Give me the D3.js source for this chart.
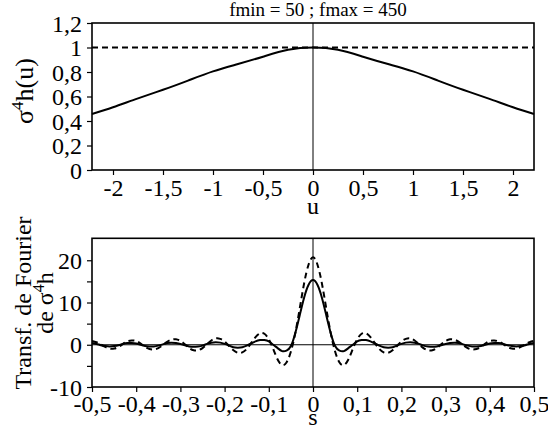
<!DOCTYPE html>
<html><head><meta charset="utf-8">
<script src="https://cdn.jsdelivr.net/npm/d3@7"></script>
<style>body{margin:0;background:#fff}svg{display:block}text{font-family:"Liberation Serif","Times New Roman",serif;fill:#000}</style>
</head><body>
<svg id="c" width="548" height="429"></svg>
<script>
// ---- data ----
const title = "fmin = 50 ; fmax = 450";
const uVals = [-2.21,-2,-1.75,-1.5,-1.25,-1,-0.75,-0.5,-0.25,0,0.25,0.5,0.75,1,1.25,1.5,1.75,2,2.21];
const hVals = [0.457,0.512,0.585,0.655,0.73,0.805,0.865,0.925,0.981,1,0.981,0.925,0.865,0.805,0.73,0.655,0.585,0.512,0.457];
const refLevel = 1;
const topXTicks = [-2,-1.5,-1,-0.5,0,0.5,1,1.5,2];
const topYTicks = [0,0.2,0.4,0.6,0.8,1,1.2];
const sVals = [-0.5,-0.49,-0.48,-0.47,-0.46,-0.45,-0.44,-0.43,-0.42,-0.41,-0.4,-0.39,-0.38,-0.37,-0.36,-0.35,-0.34,-0.33,-0.32,-0.31,-0.3,-0.29,-0.28,-0.27,-0.26,-0.25,-0.24,-0.23,-0.22,-0.21,-0.2,-0.19,-0.18,-0.17,-0.16,-0.15,-0.14,-0.13,-0.12,-0.11,-0.1,-0.09,-0.08,-0.07,-0.06,-0.05,-0.04,-0.03,-0.02,-0.01,0,0.01,0.02,0.03,0.04,0.05,0.06,0.07,0.08,0.09,0.1,0.11,0.12,0.13,0.14,0.15,0.16,0.17,0.18,0.19,0.2,0.21,0.22,0.23,0.24,0.25,0.26,0.27,0.28,0.29,0.3,0.31,0.32,0.33,0.34,0.35,0.36,0.37,0.38,0.39,0.4,0.41,0.42,0.43,0.44,0.45,0.46,0.47,0.48,0.49,0.5];
const ftSolid = [0.4,0.2,-0.1,-0.3,-0.4,-0.3,-0.1,0.2,0.4,0.4,0.3,0.0,-0.3,-0.4,-0.4,-0.2,0.1,0.4,0.5,0.4,0.2,-0.1,-0.4,-0.5,-0.4,-0.2,0.2,0.5,0.6,0.5,0.2,-0.2,-0.6,-0.7,-0.6,-0.2,0.3,0.8,1.1,1.1,0.8,0.0,-0.8,-1.5,-1.4,-0.3,2.8,7.0,11.2,14.2,15.3,14.2,11.2,7.0,2.8,-0.3,-1.4,-1.5,-0.8,0.0,0.8,1.1,1.1,0.8,0.3,-0.2,-0.6,-0.7,-0.6,-0.2,0.2,0.5,0.6,0.5,0.2,-0.2,-0.4,-0.5,-0.4,-0.1,0.2,0.4,0.5,0.4,0.1,-0.2,-0.4,-0.4,-0.3,0.0,0.3,0.4,0.4,0.2,-0.1,-0.3,-0.4,-0.3,-0.1,0.2,0.4];
const ftDashed = [0.9,0.6,0.1,-0.5,-0.9,-0.9,-0.5,0.2,0.8,1.0,0.9,0.3,-0.5,-1.0,-1.1,-0.8,-0.1,0.7,1.2,1.3,0.9,0.1,-0.8,-1.3,-1.3,-0.8,0.1,1.0,1.5,1.4,0.8,-0.3,-1.3,-1.9,-1.8,-1.0,0.4,1.8,2.7,2.6,1.3,-1.0,-3.5,-4.8,-4.2,-1.6,2.8,8.6,14.6,19.0,20.7,19.0,14.6,8.6,2.8,-1.6,-4.2,-4.8,-3.5,-1.0,1.3,2.6,2.7,1.8,0.4,-1.0,-1.8,-1.9,-1.3,-0.3,0.8,1.4,1.5,1.0,0.1,-0.8,-1.3,-1.3,-0.8,0.1,0.9,1.3,1.2,0.7,-0.1,-0.8,-1.1,-1.0,-0.5,0.3,0.9,1.0,0.8,0.2,-0.5,-0.9,-0.9,-0.5,0.1,0.6,0.9];
const botXTicks = [-0.5,-0.4,-0.3,-0.2,-0.1,0,0.1,0.2,0.3,0.4,0.5];
const botYTicks = [-10,-5,0,5,10,15,20];
const botYLabels = [-10,0,10,20];

const fmt = d => String(d).replace(".", ",");
const svg = d3.select("#c");

// ---- scales ----
const L = 92, R = 534;
const xT = d3.scaleLinear().domain([-2.21, 2.21]).range([L, R]);
const yT = d3.scaleLinear().domain([0, 1.2]).range([170, 23]);
const xB = d3.scaleLinear().domain([-0.5, 0.5]).range([L, R]);
const yB = d3.scaleLinear().domain([-10, 25.2]).range([387, 238.3]);

const FS = 24;
function styleAxis(g){
  g.attr("font-family", null).attr("font-size", null);
  g.selectAll("text").style("font-size", FS + "px");
  g.selectAll("line").attr("stroke", "#000").attr("stroke-width", 1.2);
  g.select(".domain").remove();
}

// top plot
svg.append("g").attr("transform", `translate(0,${yT(0)})`)
  .call(d3.axisBottom(xT).tickValues(topXTicks).tickFormat(fmt).tickSize(5).tickPadding(4))
  .call(styleAxis);
svg.append("g").attr("transform", `translate(${L},0)`)
  .call(d3.axisLeft(yT).tickValues(topYTicks).tickFormat(fmt).tickSize(5).tickPadding(5))
  .call(styleAxis).selectAll("text").attr("dy", "0.34em");

svg.append("line").attr("x1", xT(0)).attr("x2", xT(0)).attr("y1", yT(1.2)).attr("y2", yT(0))
  .attr("stroke", "#000").attr("stroke-width", 1);
svg.append("line").attr("x1", L).attr("x2", R).attr("y1", yT(refLevel)).attr("y2", yT(refLevel))
  .attr("stroke", "#000").attr("stroke-width", 2).attr("stroke-dasharray", "6,4");
svg.append("path").datum(uVals.map((u,i)=>[u,hVals[i]]))
  .attr("fill","none").attr("stroke","#000").attr("stroke-width",2)
  .attr("d", d3.line().x(d=>xT(d[0])).y(d=>yT(d[1])).curve(d3.curveNatural));
svg.append("rect").attr("x", L).attr("y", yT(1.2)).attr("width", R-L).attr("height", yT(0)-yT(1.2))
  .attr("fill","none").attr("stroke","#000").attr("stroke-width",1.6);

svg.append("text").attr("x", 318).attr("y", 16).attr("text-anchor","middle").style("font-size","19px").text(title);
svg.append("text").attr("x", xT(0)).attr("y", 214).attr("text-anchor","middle").style("font-size", FS+"px").text("u");
const yl = svg.append("text").attr("transform","translate(33,91) rotate(-90)").attr("text-anchor","middle").style("font-size","26px");
yl.append("tspan").text("σ");
yl.append("tspan").attr("dy", -10).style("font-size","17px").text("4");
yl.append("tspan").attr("dy", 10).text("h(u)");

// bottom plot
svg.append("clipPath").attr("id","cb").append("rect")
  .attr("x", L).attr("y", yB(25.2)).attr("width", R-L).attr("height", yB(-10)-yB(25.2));
svg.append("g").attr("transform", `translate(0,${yB(-10)})`)
  .call(d3.axisBottom(xB).tickValues(botXTicks).tickFormat(fmt).tickSize(5).tickPadding(3))
  .call(styleAxis);
svg.append("g").attr("transform", `translate(${L},0)`)
  .call(d3.axisLeft(yB).tickValues(botYTicks).tickFormat(d => botYLabels.includes(d) ? String(d) : "").tickSize(5).tickPadding(5))
  .call(styleAxis).selectAll("text").attr("dy", "0.34em");

svg.append("line").attr("x1", xB(0)).attr("x2", xB(0)).attr("y1", yB(25.2)).attr("y2", yB(-10))
  .attr("stroke", "#000").attr("stroke-width", 1);
svg.append("line").attr("x1", L).attr("x2", R).attr("y1", yB(0)).attr("y2", yB(0))
  .attr("stroke", "#000").attr("stroke-width", 1);
const lineB = d3.line().x((d,i)=>xB(sVals[i])).y(d=>yB(d)).curve(d3.curveNatural);
svg.append("path").datum(ftDashed).attr("clip-path","url(#cb)")
  .attr("fill","none").attr("stroke","#000").attr("stroke-width",2).attr("stroke-dasharray","6,4")
  .attr("d", lineB);
svg.append("path").datum(ftSolid).attr("clip-path","url(#cb)")
  .attr("fill","none").attr("stroke","#000").attr("stroke-width",2)
  .attr("d", lineB);
svg.append("rect").attr("x", L).attr("y", yB(25.2)).attr("width", R-L).attr("height", yB(-10)-yB(25.2))
  .attr("fill","none").attr("stroke","#000").attr("stroke-width",1.6);

svg.append("text").attr("x", xB(0)).attr("y", 425).attr("text-anchor","middle").style("font-size", FS+"px").text("s");
svg.append("text").attr("transform","translate(31,303) rotate(-90)").attr("text-anchor","middle").style("font-size", "24px").text("Transf. de Fourier");
const yl2 = svg.append("text").attr("transform","translate(53,303) rotate(-90)").attr("text-anchor","middle").style("font-size", "24px");
yl2.append("tspan").text("de σ");
yl2.append("tspan").attr("dy", -9).style("font-size","16px").text("4");
yl2.append("tspan").attr("dy", 9).text("h");
</script>
</body></html>
